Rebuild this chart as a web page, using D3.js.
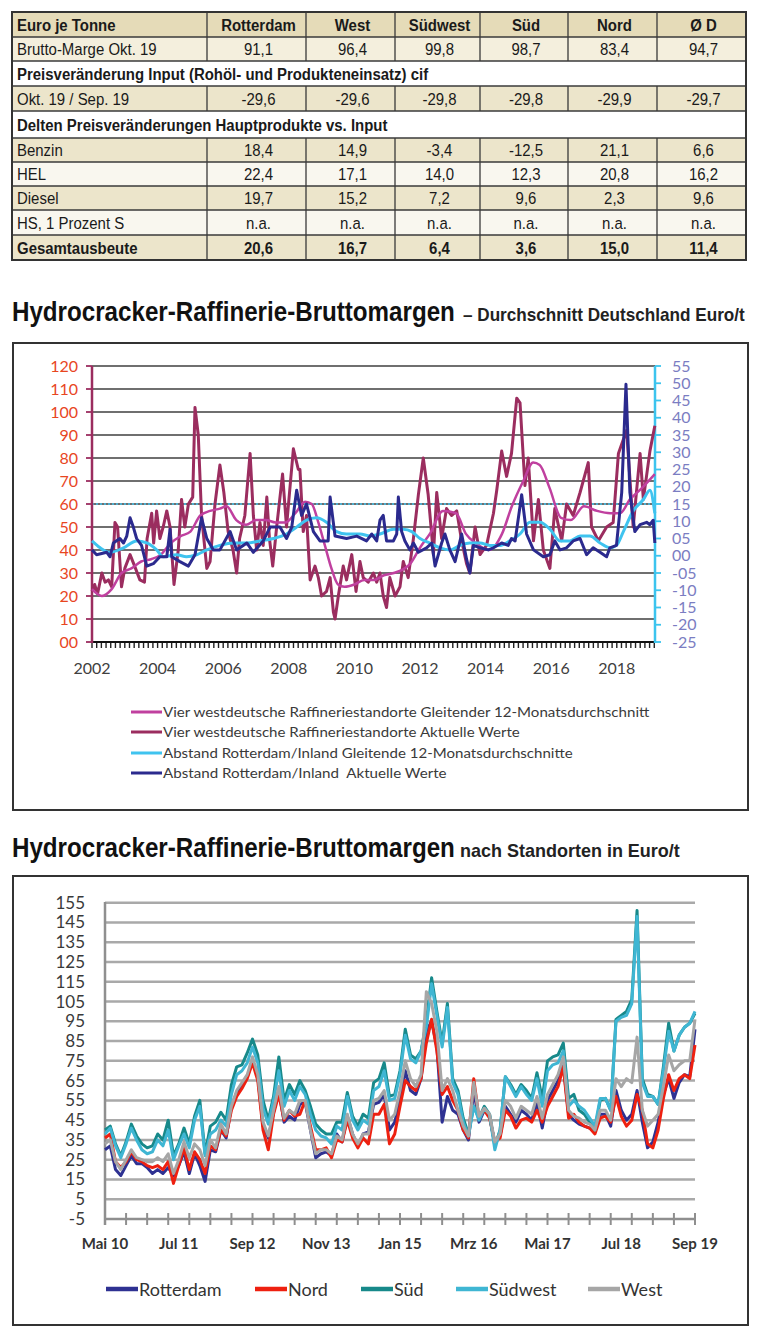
<!DOCTYPE html>
<html><head><meta charset="utf-8">
<script src="https://cdnjs.cloudflare.com/ajax/libs/d3/7.8.5/d3.min.js"></script>
<style>html,body{margin:0;padding:0;background:#fff}svg{display:block}</style>
</head><body><svg id="c" width="760" height="1338"></svg>
<script>
// ---------------- DATA ----------------
const tableColumns = ["Euro je Tonne","Rotterdam","West","Südwest","Süd","Nord","Ø D"];
const rowBrutto  = ["Brutto-Marge Okt. 19","91,1","96,4","99,8","98,7","83,4","94,7"];
const sectionInput = "Preisveränderung Input (Rohöl- und Produkteneinsatz) cif";
const rowInput   = ["Okt. 19 / Sep. 19","-29,6","-29,6","-29,8","-29,8","-29,9","-29,7"];
const sectionDelta = "Delten Preisveränderungen Hauptprodukte vs. Input";
const rowBenzin  = ["Benzin","18,4","14,9","-3,4","-12,5","21,1","6,6"];
const rowHEL     = ["HEL","22,4","17,1","14,0","12,3","20,8","16,2"];
const rowDiesel  = ["Diesel","19,7","15,2","7,2","9,6","2,3","9,6"];
const rowHS      = ["HS, 1 Prozent S","n.a.","n.a.","n.a.","n.a.","n.a.","n.a."];
const rowGesamt  = ["Gesamtausbeute","20,6","16,7","6,4","3,6","15,0","11,4"];

const title1Main = "Hydrocracker-Raffinerie-Bruttomargen";
const title1Sub = "– Durchschnitt Deutschland Euro/t";
const title2Sub = "nach Standorten in Euro/t";

// Chart 1
const c1YearTicks = [2002,2004,2006,2008,2010,2012,2014,2016,2018];
const c1LeftTicks = [0,10,20,30,40,50,60,70,80,90,100,110,120];
const c1RightTicks = [-25,-20,-15,-10,-5,0,5,10,15,20,25,30,35,40,45,50,55];
const c1Legend = [
  "Vier westdeutsche Raffineriestandorte Gleitender 12-Monatsdurchschnitt",
  "Vier westdeutsche Raffineriestandorte Aktuelle Werte",
  "Abstand Rotterdam/Inland Gleitende 12-Monatsdurchschnitte",
  "Abstand Rotterdam/Inland  Aktuelle Werte"
];
// [year, Euro/t] left axis
const westActual = [[2002.00,22],[2002.08,25],[2002.17,21],[2002.30,30],[2002.40,26],[2002.50,27],[2002.60,24],[2002.70,52],[2002.78,50],[2002.90,24],[2003.00,32],[2003.16,38],[2003.30,33],[2003.46,27],[2003.60,26],[2003.68,45],[2003.82,56],[2003.88,43],[2003.97,57],[2004.07,45],[2004.17,50],[2004.28,57],[2004.38,50],[2004.50,25],[2004.63,40],[2004.73,62],[2004.83,50],[2004.94,60],[2005.07,63],[2005.14,102],[2005.24,90],[2005.34,55],[2005.50,32],[2005.60,35],[2005.75,60],[2005.90,77],[2006.02,65],[2006.15,48],[2006.30,40],[2006.41,30],[2006.50,45],[2006.66,55],[2006.82,82],[2006.92,55],[2007.02,40],[2007.12,52],[2007.22,42],[2007.33,63],[2007.41,45],[2007.51,33],[2007.63,50],[2007.81,73],[2007.93,50],[2008.14,84],[2008.29,75],[2008.34,75],[2008.44,48],[2008.54,55],[2008.65,27],[2008.80,33],[2008.90,28],[2009.00,20],[2009.15,22],[2009.26,28],[2009.36,13],[2009.41,10],[2009.51,20],[2009.66,33],[2009.76,27],[2009.92,38],[2010.05,22],[2010.17,35],[2010.27,28],[2010.42,26],[2010.58,30],[2010.68,26],[2010.78,30],[2010.88,20],[2010.98,15],[2011.08,28],[2011.24,20],[2011.39,24],[2011.49,35],[2011.64,28],[2011.80,45],[2011.95,64],[2012.10,80],[2012.25,64],[2012.41,38],[2012.51,65],[2012.66,45],[2012.81,58],[2012.96,55],[2013.12,57],[2013.27,44],[2013.42,34],[2013.52,30],[2013.68,50],[2013.83,38],[2014.03,42],[2014.24,56],[2014.34,66],[2014.49,83],[2014.64,72],[2014.79,82],[2014.95,106],[2015.05,104],[2015.20,68],[2015.30,80],[2015.46,44],[2015.61,62],[2015.76,40],[2015.96,32],[2016.11,58],[2016.32,44],[2016.47,60],[2016.67,55],[2016.88,65],[2017.13,78],[2017.23,50],[2017.44,44],[2017.69,50],[2017.89,52],[2018.05,82],[2018.20,88],[2018.30,92],[2018.50,50],[2018.71,82],[2018.81,62],[2019.01,83],[2019.16,94]];
const westAvg = [[2002.0,23],[2002.3,20],[2002.6,23],[2002.9,30],[2003.2,32],[2003.5,35],[2003.8,36],[2004.1,38],[2004.4,43],[2004.7,46],[2005.0,48],[2005.3,55],[2005.6,57],[2005.9,58],[2006.1,59],[2006.4,53],[2006.7,51],[2007.0,53],[2007.3,53],[2007.6,52],[2007.9,52],[2008.2,56],[2008.5,61],[2008.7,60],[2008.9,52],[2009.1,42],[2009.3,32],[2009.5,25],[2009.7,24],[2010.0,25],[2010.3,27],[2010.6,27],[2010.9,29],[2011.2,30],[2011.7,34],[2012.0,41],[2012.3,47],[2012.7,57],[2013.1,56],[2013.4,47],[2013.7,43],[2014.1,40],[2014.5,47],[2014.8,59],[2015.15,70],[2015.45,78],[2015.65,77],[2015.95,67],[2016.3,54],[2016.6,53],[2017.0,59],[2017.4,57],[2017.8,56],[2018.1,56],[2018.4,62],[2018.7,66],[2019.16,73]];
// [year, Euro/t] right axis
const spreadActual = [[2002.00,1.7],[2002.14,0.3],[2002.45,1],[2002.55,-0.3],[2002.65,3.7],[2002.85,5],[2002.96,3.7],[2003.06,5.7],[2003.16,11],[2003.26,8.3],[2003.36,5],[2003.51,3],[2003.67,-3],[2003.87,-2.3],[2004.07,-0.3],[2004.28,-0.3],[2004.38,7.7],[2004.43,-0.3],[2004.68,-1.7],[2004.94,-3],[2005.14,0.3],[2005.34,11],[2005.50,5],[2005.70,1.7],[2005.90,1.7],[2006.21,7],[2006.41,1.7],[2006.72,3.7],[2006.92,1],[2007.22,4.3],[2007.43,8.3],[2007.73,8.3],[2007.93,5],[2008.09,8.3],[2008.24,19],[2008.39,11.7],[2008.54,15],[2008.75,7],[2008.95,4.3],[2009.20,4.3],[2009.26,17],[2009.41,5.7],[2009.76,5],[2010.07,5.7],[2010.37,4.3],[2010.53,6.3],[2010.68,4.3],[2010.78,10.3],[2010.88,11.7],[2010.98,4.3],[2011.19,4.3],[2011.29,6.3],[2011.34,17],[2011.44,7],[2011.54,4.3],[2011.69,1.7],[2011.80,3.7],[2011.95,1],[2012.20,2.3],[2012.36,3.7],[2012.46,-3],[2012.66,3.7],[2012.76,6.3],[2012.91,1.7],[2013.07,-1.7],[2013.27,6.3],[2013.42,-1],[2013.52,-5],[2013.63,3],[2013.83,2.3],[2014.08,1.7],[2014.24,2.3],[2014.49,3.7],[2014.69,3],[2014.79,5],[2014.90,4.3],[2015.10,17.7],[2015.25,6.3],[2015.46,1.7],[2015.76,-0.3],[2015.96,0.3],[2016.11,4.3],[2016.27,1.7],[2016.47,2.3],[2016.67,4.3],[2016.88,5],[2017.08,0.3],[2017.28,2.3],[2017.49,1],[2017.69,-0.3],[2017.79,2.3],[2017.99,3],[2018.15,18.3],[2018.28,49.7],[2018.40,18.3],[2018.55,7],[2018.71,9],[2018.91,9.7],[2019.01,9],[2019.11,10.3],[2019.16,3.7]];
const spreadAvg = [[2002.0,4.3],[2002.25,2.3],[2002.55,1],[2002.96,2.3],[2003.36,4.3],[2003.67,3.7],[2003.97,1.7],[2004.17,-0.3],[2004.58,0.3],[2004.88,-0.3],[2005.19,0.3],[2005.5,1.7],[2005.9,3],[2006.31,3.7],[2006.72,3.7],[2007.12,4.3],[2007.53,5],[2007.93,6.3],[2008.24,8.3],[2008.54,10.3],[2008.85,11],[2009.15,9.7],[2009.46,7],[2009.76,6.3],[2010.17,6.3],[2010.48,5.7],[2010.78,6.3],[2011.19,7.7],[2011.49,7.7],[2011.75,7],[2012.0,5],[2012.3,3.7],[2012.61,2.3],[2012.91,1.7],[2013.22,3],[2013.52,3.7],[2013.83,3.7],[2014.13,3],[2014.44,3],[2014.74,4.3],[2015.05,6.3],[2015.35,9.7],[2015.66,9.7],[2015.96,7.7],[2016.27,4.3],[2016.57,4.3],[2016.88,5.7],[2017.18,5.7],[2017.49,3.7],[2017.79,2.3],[2017.99,3],[2018.2,7],[2018.5,13],[2018.81,16.3],[2019.01,19],[2019.16,12.3]];
const dottedRef = 15; // right-axis value of the dotted line

// Chart 2 (monthly, May 2010 .. Sep/Oct 2019)
const c2MonthLabels = ["Mai 10","Jul 11","Sep 12","Nov 13","Jan 15","Mrz 16","Mai 17","Jul 18","Sep 19"];
const c2YTicks = [-5,5,15,25,35,45,55,65,75,85,95,105,115,125,135,145,155];
const c2Names = ["Rotterdam","Nord","Süd","Südwest","West"];
const rotterdam = [30,32,20,17,22,27,23,23,21,18, 20,18,21,17,22,29,18,28,22,14, 30,29,40,36,52,59,62,67,75,67, 42,36,49,60,44,47,45,53,54,40, 26,28,29,27,38,34,47,38,32,38, 39,53,54,58,40,44,55,70,60,58, 66,90,95,82,44,57,50,48,40,35, 60,44,50,47,33,37,52,48,44,50, 48,45,54,41,55,60,65,73,48,45, 43,42,41,39,48,48,42,60,50,45, 48,60,44,31,34,44,58,66,56,64, 68,67,91];
const nord      = [36,38,24,21,24,29,25,24,22,21, 22,20,24,13,22,31,20,29,25,18, 32,30,40,37,50,57,61,66,74,65, 40,30,48,58,45,50,47,48,55,42, 30,30,31,26,35,34,45,36,31,36, 33,48,48,53,33,38,52,65,62,60, 66,84,96,80,58,62,55,50,40,36, 66,46,50,46,34,36,50,47,41,45, 46,44,50,44,52,57,62,72,46,48, 44,42,41,38,46,47,44,57,47,42, 45,58,50,33,31,40,56,68,60,66, 68,66,83];
const sued      = [40,42,33,27,34,43,37,33,31,32, 38,35,45,27,33,41,33,47,55,28, 42,44,49,45,63,72,73,79,86,78, 55,45,57,77,55,63,58,65,60,52, 43,40,38,38,44,44,59,47,42,48, 46,64,66,74,57,58,70,91,78,76, 80,95,117,100,84,104,66,60,46,38, 52,46,52,48,32,40,67,63,58,63, 60,56,69,56,75,77,78,84,56,58, 50,48,44,40,55,56,50,96,98,100, 106,151,66,58,57,53,72,94,80,88, 92,94,99];
const suedwest  = [38,41,32,26,33,41,35,30,28,29, 35,32,40,25,32,38,31,45,52,27, 38,40,45,42,58,68,70,74,82,74, 51,43,55,70,52,60,55,62,58,48, 40,37,36,33,42,40,57,45,40,45, 43,60,62,70,55,56,68,88,76,74, 80,92,114,98,82,102,64,58,44,37, 52,45,51,48,30,40,67,62,57,62, 58,55,66,52,70,73,74,80,52,55, 52,50,46,42,56,56,50,95,97,98, 104,148,64,57,57,53,70,90,80,88, 92,94,100];
const west      = [33,35,24,20,25,30,26,25,24,24, 26,24,28,18,25,34,26,33,30,22, 35,31,43,38,52,60,64,68,77,68, 44,37,50,62,46,50,48,55,55,40, 28,30,30,28,37,35,48,38,33,38, 38,55,56,60,45,48,60,75,66,62, 68,110,104,90,60,66,60,50,42,37, 64,47,51,48,34,38,55,52,46,52, 50,48,57,46,58,63,68,77,50,47, 46,44,43,40,50,50,45,66,62,66, 64,87,50,42,45,48,62,78,70,73, 75,75,96];

// ---------------- DRAWING ----------------
const svg = d3.select("#c");
svg.append("rect").attr("width",760).attr("height",1338).attr("fill","#fff");
const TF = "'Liberation Sans', Arial, sans-serif";
const LF = "Lato, 'Liberation Sans', sans-serif";

// text squeezed horizontally to a given width via transform (real bbox)
function fitText(g, x, y, s, width, attrs){
  const t = g.append("text").attr("x",0).attr("y",0).text(s);
  Object.entries(attrs).forEach(([k,v])=>t.attr(k,v));
  const w = t.node().getComputedTextLength() || width;
  t.attr("transform",`translate(${x},${y}) scale(${width/w},1)`);
  return t;
}

// ---- Table ----
const colEdges = [12,207,306,395,480,568,657,746];
const rowEdges = [12,37,61,86,111,138,162,186,210,235,260];
const rows = [
  {cells: tableColumns, fill:"#e5dbb8", bold:true},
  {cells: rowBrutto, fill:"#f4efdd"},
  {section: sectionInput},
  {cells: rowInput, fill:"#ece5cb"},
  {section: sectionDelta},
  {cells: rowBenzin, fill:"#ece5cb"},
  {cells: rowHEL, fill:"#f9f7ef"},
  {cells: rowDiesel, fill:"#ece5cb"},
  {cells: rowHS, fill:"#f9f7ef"},
  {cells: rowGesamt, fill:"#ece5cb", bold:true}
];
const tg = svg.append("g");
function ntext(g, x, y, s, anchor, bold){
  g.append("text").attr("transform",`translate(${x},${y}) scale(0.88,1)`)
   .attr("text-anchor",anchor).attr("font-family",TF).attr("font-size",17)
   .attr("font-weight",bold?"bold":"normal").attr("fill","#1a1a1a").text(s);
}
rows.forEach((r,i)=>{
  const y0=rowEdges[i], y1=rowEdges[i+1], ym=(y0+y1)/2+6;
  if(r.section){
    tg.append("rect").attr("x",12).attr("y",y0).attr("width",734).attr("height",y1-y0).attr("fill","#fff");
    ntext(tg, 17, ym, r.section, "start", true);
  } else {
    tg.append("rect").attr("x",12).attr("y",y0).attr("width",734).attr("height",y1-y0).attr("fill",r.fill);
    r.cells.forEach((c,j)=>{
      if(j===0) ntext(tg, 17, ym, c, "start", r.bold);
      else ntext(tg, (colEdges[j]+colEdges[j+1])/2+2, ym, c, "middle", r.bold);
    });
    colEdges.slice(1,-1).forEach(x=>tg.append("line").attr("x1",x).attr("x2",x).attr("y1",y0).attr("y2",y1).attr("stroke","#3a3a3a").attr("stroke-width",1.3));
  }
});
rowEdges.forEach(y=>tg.append("line").attr("x1",12).attr("x2",746).attr("y1",y).attr("y2",y).attr("stroke","#3a3a3a").attr("stroke-width",1.3));
tg.append("rect").attr("x",12).attr("y",12).attr("width",734).attr("height",248).attr("fill","none").attr("stroke","#333").attr("stroke-width",2);

// ---- Titles ----
function title(y, sub, subX, subLen){
  fitText(svg, 12, y, title1Main, 443, {"font-family":TF,"font-weight":"bold","font-size":27,"fill":"#111"});
  fitText(svg, subX, y, sub, subLen, {"font-family":TF,"font-weight":"bold","font-size":18,"fill":"#222"});
}
title(321, title1Sub, 463, 282);
title(857, title2Sub, 460, 220);

// ---- Chart 1 ----
svg.append("rect").attr("x",13).attr("y",343).attr("width",735).attr("height",467).attr("fill","#fff").attr("stroke","#333").attr("stroke-width",2);
const x1 = d3.scaleLinear().domain([2002, 2019.165]).range([92, 655]);
const yL = d3.scaleLinear().domain([0,120]).range([642,366]);
const yR = d3.scaleLinear().domain([-25,55]).range([642,366]);
const g1 = svg.append("g");
c1LeftTicks.filter(v=>v>0).forEach(v=>{
  g1.append("line").attr("x1",92).attr("x2",655).attr("y1",yL(v)).attr("y2",yL(v)).attr("stroke","#3f3f3f").attr("stroke-width",1.6);
});
g1.append("line").attr("x1",92).attr("x2",655).attr("y1",yR(dottedRef)).attr("y2",yR(dottedRef))
  .attr("stroke","#45c3ee").attr("stroke-width",1.5).attr("stroke-dasharray","2,2");
const minor = d3.range(0, Math.floor((2019.165-2002)*7)+1).map(i=>2002+i/7);
minor.forEach(t=>g1.append("line").attr("x1",x1(t)).attr("x2",x1(t)).attr("y1",642).attr("y2",648).attr("stroke","#222").attr("stroke-width",1.4));
g1.append("line").attr("x1",92).attr("x2",655).attr("y1",642).attr("y2",642).attr("stroke","#111").attr("stroke-width",2);
g1.append("line").attr("x1",92).attr("x2",92).attr("y1",366).attr("y2",643).attr("stroke","#9b2d5f").attr("stroke-width",2.5);
c1LeftTicks.forEach(v=>{
  g1.append("line").attr("x1",86).attr("x2",92).attr("y1",yL(v)).attr("y2",yL(v)).attr("stroke","#9b2d5f").attr("stroke-width",1.8);
  g1.append("text").attr("x",78).attr("y",yL(v)+5.5).attr("text-anchor","end").attr("font-family",LF).attr("font-size",16)
    .attr("fill","#e8461f").text(v===0?"00":v);
});
g1.append("line").attr("x1",655).attr("x2",655).attr("y1",366).attr("y2",643).attr("stroke","#3cc4ee").attr("stroke-width",2.5);
const fmtR = v => (v<0?"-":"") + String(Math.abs(v)).padStart(2,"0");
c1RightTicks.forEach(v=>{
  g1.append("line").attr("x1",655).attr("x2",661).attr("y1",yR(v)).attr("y2",yR(v)).attr("stroke","#3cc4ee").attr("stroke-width",1.8);
  g1.append("text").attr("x",672).attr("y",yR(v)+5.5).attr("font-family",LF).attr("font-size",16)
    .attr("fill","#7b7dc2").text(fmtR(v));
});
c1YearTicks.forEach(t=>{
  g1.append("text").attr("x",x1(t)).attr("y",674).attr("text-anchor","middle").attr("font-family",LF).attr("font-size",16)
    .attr("fill","#404040").text(t);
});
const lineL = d3.line().x(d=>x1(d[0])).y(d=>yL(d[1]));
const lineLs = d3.line().x(d=>x1(d[0])).y(d=>yL(d[1])).curve(d3.curveMonotoneX);
const lineR = d3.line().x(d=>x1(d[0])).y(d=>yR(d[1]));
const lineRs = d3.line().x(d=>x1(d[0])).y(d=>yR(d[1])).curve(d3.curveMonotoneX);
const c1Colors = ["#c0409f","#9b2d5f","#3fc3ef","#2b2a8e"];
g1.append("path").attr("d",lineL(westActual)).attr("fill","none").attr("stroke",c1Colors[1]).attr("stroke-width",3).attr("stroke-linejoin","round");
g1.append("path").attr("d",lineLs(westAvg)).attr("fill","none").attr("stroke",c1Colors[0]).attr("stroke-width",2.5);
g1.append("path").attr("d",lineRs(spreadAvg)).attr("fill","none").attr("stroke",c1Colors[2]).attr("stroke-width",3);
g1.append("path").attr("d",lineR(spreadActual)).attr("fill","none").attr("stroke",c1Colors[3]).attr("stroke-width",3).attr("stroke-linejoin","round");
const legY = [712,732,753,773], legEnd=[650,520,573,447];
c1Legend.forEach((s,i)=>{
  g1.append("line").attr("x1",131).attr("x2",162).attr("y1",legY[i]).attr("y2",legY[i]).attr("stroke",c1Colors[i]).attr("stroke-width",3);
  fitText(g1, 163, legY[i]+5, s, legEnd[i]-163, {"font-family":LF,"font-size":14,"fill":"#3a3a3a","xml:space":"preserve"});
});

// ---- Chart 2 ----
svg.append("rect").attr("x",13).attr("y",876).attr("width",735).attr("height",449).attr("fill","#fff").attr("stroke","#333").attr("stroke-width",2);
const g2 = svg.append("g");
const x2 = d3.scaleLinear().domain([0,112]).range([105,695]);
const y2 = d3.scaleLinear().domain([-5,155]).range([1219,902.7]);
c2YTicks.forEach(v=>{
  if(v>-5) g2.append("line").attr("x1",105).attr("x2",695).attr("y1",y2(v)).attr("y2",y2(v)).attr("stroke","#a9a9a9").attr("stroke-width",2.5);
  g2.append("text").attr("x",85).attr("y",y2(v)+6).attr("text-anchor","end").attr("font-family",LF).attr("font-size",17)
    .attr("fill","#3a3a3a").text(v);
});
g2.append("line").attr("x1",105).attr("x2",695).attr("y1",y2(-5)).attr("y2",y2(-5)).attr("stroke","#8f8f8f").attr("stroke-width",2.5);
d3.range(0,113,4).forEach(m=>g2.append("line").attr("x1",x2(m)).attr("x2",x2(m)).attr("y1",y2(-5)-6).attr("y2",y2(-5)+6).attr("stroke","#8f8f8f").attr("stroke-width",2));
g2.append("line").attr("x1",105).attr("x2",105).attr("y1",902).attr("y2",1225).attr("stroke","#8f8f8f").attr("stroke-width",2.5);
c2MonthLabels.forEach((s,i)=>{
  g2.append("text").attr("x",x2(i*14)).attr("y",1249).attr("text-anchor","middle").attr("font-family",LF).attr("font-weight","bold")
    .attr("font-size",15).attr("fill","#333").text(s);
});
const c2Series = [rotterdam, nord, sued, suedwest, west];
const c2Colors = ["#2e3192","#ee2010","#17898a","#3fb6d3","#a6a6a6"];
const line2 = d3.line().x((d,i)=>x2(i)).y(d=>y2(d));
c2Series.forEach((s,i)=>{
  g2.append("path").attr("d",line2(s)).attr("fill","none").attr("stroke",c2Colors[i]).attr("stroke-width",3).attr("stroke-linejoin","round");
});
const leg2X = [106,255,361,456,588];
c2Names.forEach((n,i)=>{
  g2.append("line").attr("x1",leg2X[i]).attr("x2",leg2X[i]+32).attr("y1",1289).attr("y2",1289).attr("stroke",c2Colors[i]).attr("stroke-width",4.5);
  g2.append("text").attr("x",leg2X[i]+33).attr("y",1295.5).attr("font-family",LF).attr("font-size",18).attr("fill","#333").text(n);
});
</script></body></html>
